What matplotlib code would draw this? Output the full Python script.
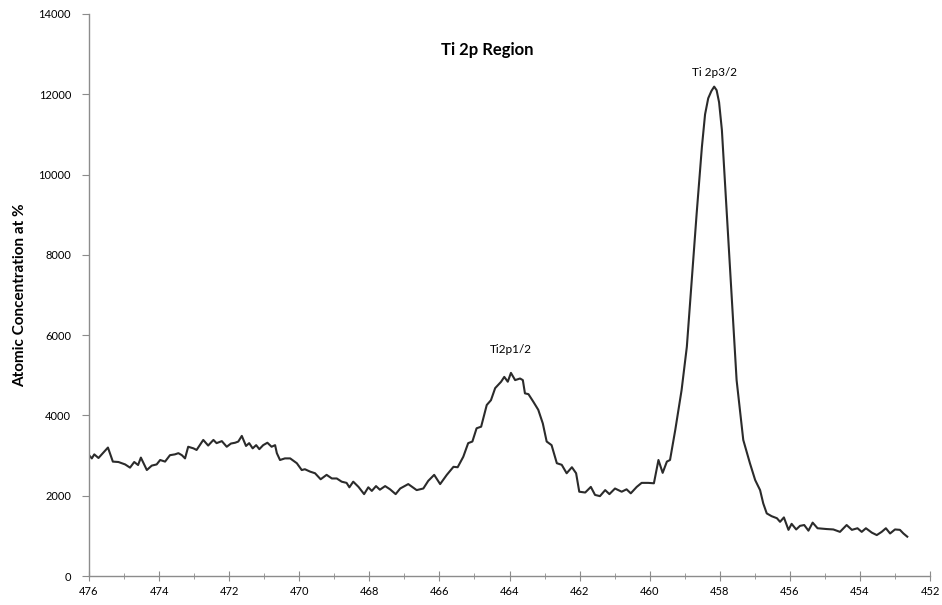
import matplotlib
matplotlib.use("Agg")
import matplotlib.pyplot as plt
from matplotlib.ticker import MultipleLocator

plt.rcParams['font.family'] = ['Lato', 'DejaVu Sans']

# binding energy (eV) and counts
energy = [476.00, 475.92, 475.85, 475.73, 475.46, 475.32, 475.16, 474.97, 474.83, 474.71,
          474.60, 474.52, 474.35, 474.21, 474.07, 473.97, 473.83, 473.69, 473.55, 473.45,
          473.35, 473.26, 473.17, 473.02, 472.93, 472.74, 472.60, 472.45, 472.36, 472.21,
          472.07, 471.95, 471.83, 471.74, 471.64, 471.52, 471.43, 471.33, 471.23, 471.14,
          471.03, 470.91, 470.79, 470.69, 470.64, 470.55, 470.41, 470.26, 470.07, 469.93,
          469.84, 469.69, 469.55, 469.39, 469.22, 469.07, 468.93, 468.79, 468.65, 468.57,
          468.46, 468.31, 468.15, 468.03, 467.93, 467.81, 467.70, 467.55, 467.41, 467.25,
          467.12, 466.89, 466.65, 466.46, 466.32, 466.15, 465.98, 465.79, 465.60, 465.48,
          465.32, 465.18, 465.06, 464.94, 464.81, 464.65, 464.53, 464.41, 464.24, 464.15,
          464.05, 463.96, 463.84, 463.70, 463.62, 463.56, 463.46, 463.32, 463.18, 463.05,
          462.94, 462.80, 462.65, 462.51, 462.37, 462.22, 462.10, 462.01, 461.84, 461.68,
          461.56, 461.42, 461.27, 461.15, 460.99, 460.80, 460.66, 460.54, 460.37, 460.23,
          460.04, 459.88, 459.75, 459.63, 459.51, 459.42, 459.27, 459.09, 458.94, 458.80,
          458.66, 458.51, 458.42, 458.33, 458.24, 458.16, 458.09, 458.02, 457.94, 457.80,
          457.66, 457.52, 457.33, 457.14, 456.99, 456.85, 456.76, 456.66, 456.52, 456.37,
          456.28, 456.17, 456.04, 455.95, 455.82, 455.71, 455.59, 455.47, 455.35, 455.21,
          454.95, 454.76, 454.57, 454.38, 454.23, 454.07, 453.95, 453.83, 453.66, 453.52,
          453.38, 453.26, 453.14, 453.00, 452.86, 452.76, 452.65]
counts = [3010, 2930, 3030, 2940, 3200, 2850, 2840, 2780, 2700, 2840,
          2765, 2950, 2640, 2750, 2780, 2890, 2850, 3010, 3030, 3060,
          3010, 2930, 3220, 3180, 3140, 3390, 3250, 3390, 3310, 3360,
          3220, 3300, 3320, 3350, 3490, 3240, 3310, 3180, 3260, 3160,
          3260, 3320, 3220, 3260, 3060, 2890, 2930, 2930, 2810, 2640,
          2660, 2600, 2560, 2410, 2520, 2430, 2430, 2350, 2320, 2210,
          2350, 2220, 2040, 2210, 2120, 2240, 2150, 2240, 2160, 2040,
          2180, 2290, 2140, 2180, 2370, 2520, 2290, 2520, 2720, 2710,
          2970, 3310, 3350, 3680, 3720, 4260, 4380, 4680, 4840, 4960,
          4840, 5060, 4880, 4920, 4880, 4550, 4530, 4340, 4140, 3800,
          3350, 3260, 2810, 2770, 2560, 2710, 2560, 2100, 2080, 2220,
          2020, 1990, 2140, 2040, 2180, 2100, 2160, 2060, 2220, 2320,
          2320, 2310, 2890, 2570, 2850, 2890, 3640, 4630, 5710, 7370,
          9030, 10690, 11500, 11900, 12080, 12190, 12100, 11800, 11110, 9030,
          6960, 4880, 3390, 2810, 2390, 2140, 1810, 1560, 1490, 1440,
          1350, 1460, 1150, 1300, 1160, 1250, 1270, 1130, 1330, 1190,
          1170, 1160, 1100, 1270, 1150, 1190, 1100, 1190, 1080, 1020,
          1100, 1190, 1060, 1160, 1150, 1060, 980]

peak_labels = ["Ti2p1/2", "Ti 2p3/2"]
peak_pos = [(463.95, 5500), (458.15, 12400)]

fig = plt.figure(figsize=(9.42, 6.05), dpi=100)
ax = fig.add_axes([0.0945, 0.0479, 0.8928, 0.929])

ax.plot(energy, counts, color="#2b2b2b", linewidth=1.5, solid_joinstyle="round")

ax.set_xlim(476, 452)
ax.set_ylim(0, 14000)
ax.xaxis.set_major_locator(MultipleLocator(2))
ax.xaxis.set_minor_locator(MultipleLocator(1))
ax.yaxis.set_major_locator(MultipleLocator(2000))

for s in ["top", "right"]:
    ax.spines[s].set_visible(False)
for s in ["left", "bottom"]:
    ax.spines[s].set_color("#8c8c8c")
    ax.spines[s].set_linewidth(1.0)

ax.tick_params(axis="y", direction="out", length=5, color="#8c8c8c", labelsize=8, pad=8)
ax.tick_params(axis="x", which="major", direction="inout", length=7, color="#8c8c8c",
               labelsize=8, pad=4)
ax.tick_params(axis="x", which="minor", direction="inout", length=4, color="#8c8c8c")

ax.set_ylabel("Atomic Concentration at %", fontsize=11, fontweight="bold", labelpad=8)

ax.text(0.517, 0.917, "Ti 2p Region", transform=fig.transFigure, ha="center", va="center",
        fontsize=12, fontweight="bold")
for lab, (x, y) in zip(peak_labels, peak_pos):
    ax.text(x, y, lab, ha="center", va="bottom", fontsize=8.5)

fig.savefig("out.png", dpi=100)
